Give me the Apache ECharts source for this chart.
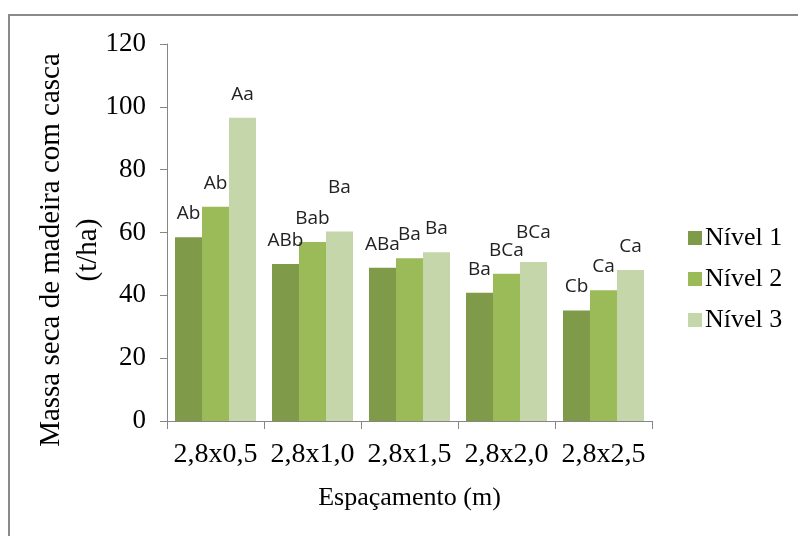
<!DOCTYPE html>
<html>
<head>
<meta charset="utf-8">
<script src="https://cdn.jsdelivr.net/npm/echarts@6/dist/echarts.min.js"></script>
<style>html,body{margin:0;padding:0;background:#fff}#c{width:798px;height:536px}</style>
</head>
<body>
<div id="c"></div>
<script>
const categories = ['2,8x0,5', '2,8x1,0', '2,8x1,5', '2,8x2,0', '2,8x2,5'];
const seriesNames = ['Nível 1', 'Nível 2', 'Nível 3'];
const nivel1 = [58.5, 50.0, 48.8, 40.8, 35.2];
const nivel2 = [68.2, 57.0, 51.8, 46.9, 41.6];
const nivel3 = [96.5, 60.3, 53.7, 50.6, 48.1];
const labels1 = ['Ab', 'ABb', 'ABa', 'Ba', 'Cb'];
const labels2 = ['Ab', 'Bab', 'Ba', 'BCa', 'Ca'];
const labels3 = ['Aa', 'Ba', 'Ba', 'BCa', 'Ca'];
const yTicks = [0, 20, 40, 60, 80, 100, 120];

// label vertical nudges (styling, not data)
const nudge = [[0,0,0,0,0],[0,0,0,0,0],[0,-20,0,-6,0]];
const colors = ['#7f9a48', '#9bbb59', '#c5d6ab'];
const serif = '"Liberation Serif", "Times New Roman", serif';

const values = [nivel1, nivel2, nivel3];
const labs = [labels1, labels2, labels3];

const chart = echarts.init(document.getElementById('c'), null, {renderer: 'canvas'});
const series = values.map((vals, si) => ({
  name: seriesNames[si],
  type: 'bar',
  barGap: '0%',
  barCategoryGap: '16.5%',
  itemStyle: {color: colors[si]},
  data: vals.map((v, i) => ({
    value: v,
    label: {offset: [0, nudge[si][i]]}
  })),
  label: {
    show: true,
    position: 'top',
    distance: 14,
    fontFamily: '"Open Sans", "Liberation Sans", sans-serif',
    fontSize: 19,
    color: '#222',
    formatter: p => labs[si][p.dataIndex]
  }
}));

chart.setOption({
  animation: false,
  backgroundColor: '#fff',
  grid: {left: 167, right: 146, top: 44, bottom: 115, containLabel: false},
  legend: {
    orient: 'vertical',
    left: 683,
    top: 220,
    itemWidth: 14,
    itemHeight: 14,
    itemGap: 15,
    icon: 'rect',
    data: seriesNames,
    textStyle: {fontFamily: serif, fontSize: 26, color: '#000', padding: [0,0,0,-2]}
  },
  xAxis: {
    type: 'category',
    data: categories,
    axisLine: {lineStyle: {color: '#868686', width: 1}},
    axisTick: {show: true, length: 8, alignWithLabel: false, lineStyle: {color: '#868686'}},
    axisLabel: {fontFamily: serif, fontSize: 28, color: '#000', margin: 20, interval: 0},
    name: 'Espaçamento (m)',
    nameLocation: 'middle',
    nameGap: 64,
    nameTextStyle: {fontFamily: serif, fontSize: 26, color: '#000'}
  },
  yAxis: {
    type: 'value',
    min: yTicks[0],
    max: yTicks[yTicks.length - 1],
    interval: yTicks[1] - yTicks[0],
    axisLine: {show: true, lineStyle: {color: '#868686', width: 1}},
    axisTick: {show: true, length: 7, lineStyle: {color: '#868686'}},
    splitLine: {show: false},
    axisLabel: {fontFamily: serif, fontSize: 27, color: '#000', margin: 21}
  },
  graphic: [
    {
      type: 'rect',
      shape: {x: 9, y: 15, width: 900, height: 600},
      style: {fill: 'none', stroke: '#8a8a8a', lineWidth: 2},
      silent: true
    },
    {
      type: 'text',
      x: 70,
      y: 250,
      rotation: Math.PI / 2,
      style: {
        text: 'Massa seca de madeira com casca\n(t/ha)',
        fontFamily: serif,
        fontSize: 29,
        lineHeight: 37,
        fill: '#000',
        align: 'center',
        verticalAlign: 'middle'
      }
    }
  ],
  series: series
});
</script>
</body>
</html>
